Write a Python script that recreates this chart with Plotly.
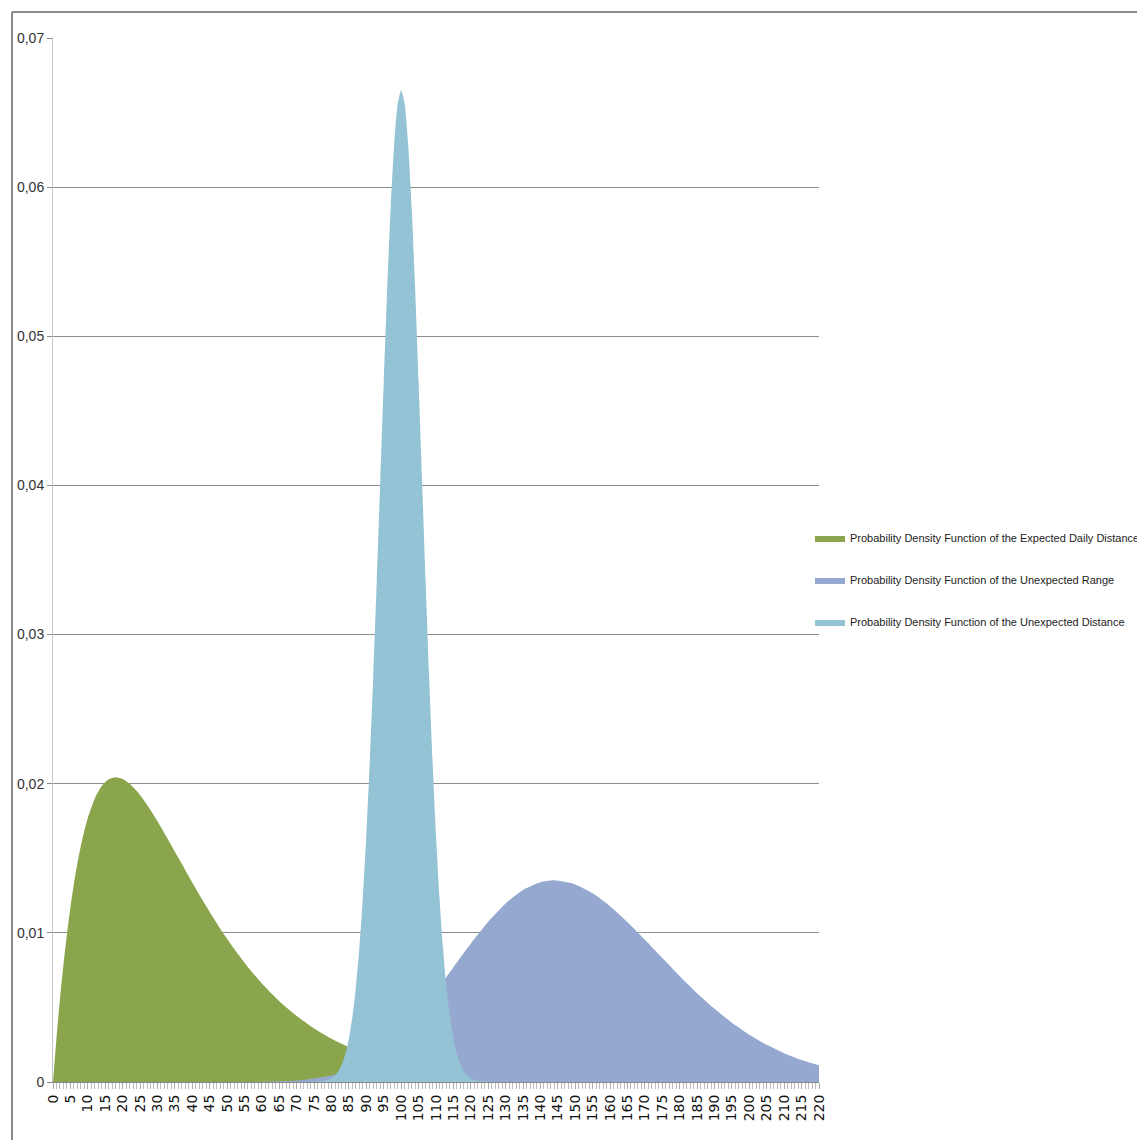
import plotly.graph_objects as go

# ---------------- data ----------------
series_names = [
    "Probability Density Function of the Expected Daily Distance",
    "Probability Density Function of the Unexpected Range",
    "Probability Density Function of the Unexpected Distance",
]

expected_x = [0, 1, 2, 3, 4, 5, 6, 7, 8, 9, 10, 12, 14, 16, 18, 20, 22, 24, 26, 28, 30,
              33, 36, 40, 44, 48, 52, 56, 60, 65, 70, 75, 80, 85, 90, 95, 100, 110, 120,
              130, 140, 160, 180, 200, 220]
expected_y = [0.0, 0.00292, 0.005524, 0.007838, 0.009886, 0.011689, 0.013269, 0.014644,
              0.015831, 0.016848, 0.017708, 0.019016, 0.019852, 0.020302, 0.020438,
              0.02032, 0.020002, 0.019526, 0.018929, 0.018241, 0.017489, 0.016284,
              0.015038, 0.013378, 0.011784, 0.010294, 0.008929, 0.0077, 0.006606,
              0.005422, 0.004422, 0.003589, 0.0029, 0.002334, 0.001872, 0.001497,
              0.001193, 0.000753, 0.000471, 0.000293, 0.000181, 0.000068, 0.000025,
              0.000009, 0.000003]

range_x = [50, 60, 70, 80, 85, 90, 95, 100, 105, 110, 115, 120, 125, 130, 135, 140, 144,
           150, 155, 160, 165, 170, 175, 180, 185, 190, 195, 200, 205, 210, 215, 220]
range_y = [0.000001, 0.0000122, 0.0000931, 0.000434, 0.000807, 0.001383, 0.0022, 0.003275,
           0.004589, 0.006092, 0.007695, 0.009286, 0.010749, 0.011975, 0.012876, 0.013395,
           0.013521, 0.01325, 0.012651, 0.011779, 0.010713, 0.009532, 0.008306, 0.007097,
           0.005954, 0.004907, 0.003978, 0.003174, 0.002495, 0.001933, 0.001478, 0.001116]

distance_x = [70, 75, 78, 80, 81, 82, 83, 84, 85, 86, 87, 88, 89, 90, 91, 92, 93, 94, 95,
              96, 97, 98, 99, 100, 101, 102, 103, 104, 105, 106, 107, 108, 109, 110, 111,
              112, 113, 114, 115, 116, 117, 118, 119, 120, 122, 125, 130]
distance_y = [0.0, 0.0000113, 0.00008, 0.000257, 0.000442, 0.000739, 0.001201, 0.0019,
              0.002922, 0.00437, 0.006358, 0.008999, 0.012386, 0.016579, 0.021586,
              0.027335, 0.033666, 0.040329, 0.046984, 0.053241, 0.058677, 0.062897,
              0.065573, 0.06649, 0.065573, 0.062897, 0.058677, 0.053241, 0.046984,
              0.040329, 0.033666, 0.027335, 0.021586, 0.016579, 0.012386, 0.008999,
              0.006358, 0.00437, 0.002922, 0.0019, 0.001201, 0.000739, 0.000442,
              0.000257, 0.00008, 0.0000113, 0.0]

y_tick_vals = [0, 0.01, 0.02, 0.03, 0.04, 0.05, 0.06, 0.07]
y_tick_text = ["0", "0,01", "0,02", "0,03", "0,04", "0,05", "0,06", "0,07"]
x_tick_vals = list(range(0, 221, 5))
x_tick_text = [str(v) for v in x_tick_vals]

colors = ["#8AA54C", "#95A8CF", "#93C3D4"]

# ---------------- figure ----------------
# page has an 8px body margin, so the figure is shifted by 8px
W, H = 1137, 1132
L, T = 45, 30
pw, ph = 766, 1044
R = W - L - pw
B = H - T - ph

# screen plot area: x 53..819, y 38..1082
def px_x(p):
    return (p - 53) / pw

def px_y(p):
    return (1082 - p) / ph

FONT = "Liberation Sans, Arial, sans-serif"

fig = go.Figure()
for i, (xs, ys) in enumerate([(expected_x, expected_y),
                              (range_x, range_y),
                              (distance_x, distance_y)]):
    fig.add_trace(go.Scatter(
        x=xs, y=ys, name=series_names[i], mode="lines",
        line=dict(width=0, shape="spline", smoothing=0.6, color=colors[i]),
        fill="tozeroy", fillcolor=colors[i],
        legendgroup=f"g{i}",
    ))

fig.update_layout(
    width=W, height=H,
    margin=dict(l=L, r=R, t=T, b=B, autoexpand=False),
    paper_bgcolor="white", plot_bgcolor="white",
    showlegend=True,
    legend=dict(
        x=px_x(810), y=px_y(580), xanchor="left", yanchor="middle",
        font=dict(family=FONT, size=11, color="#222"),
        traceorder="grouped", tracegroupgap=23,
        itemwidth=30, bgcolor="rgba(0,0,0,0)",
    ),
    xaxis=dict(
        range=[0, 220], tickmode="array", tickvals=x_tick_vals, ticktext=x_tick_text,
        tickangle=-90, ticks="outside", ticklen=6, tickcolor="#aaaaaa",
        tickfont=dict(family="DejaVu Sans", size=14, color="#111"),
        showgrid=False, zeroline=False,
        showline=True, linecolor="#888888", linewidth=1,
        minor=dict(dtick=1, tick0=0, ticks="outside", ticklen=6, tickcolor="#bbbbbb", showgrid=False),
    ),
    yaxis=dict(
        range=[0, 0.07], tickmode="array", tickvals=y_tick_vals, ticktext=y_tick_text,
        ticks="outside", ticklen=5, tickcolor="#888888",
        tickfont=dict(family=FONT, size=14, color="#333"),
        showgrid=True, gridcolor="#8c8c8c", gridwidth=1,
        zeroline=False, showline=True, linecolor="#c8c8c8", linewidth=1,
    ),
    shapes=[
        dict(type="line", xref="paper", yref="paper",
             x0=px_x(12), x1=px_x(12), y0=px_y(1150), y1=px_y(12),
             line=dict(color="#8a8a8a", width=2)),
        dict(type="line", xref="paper", yref="paper",
             x0=px_x(12), x1=px_x(1150), y0=px_y(12), y1=px_y(12),
             line=dict(color="#8a8a8a", width=2)),
    ],
)

fig.write_html("out.html")
